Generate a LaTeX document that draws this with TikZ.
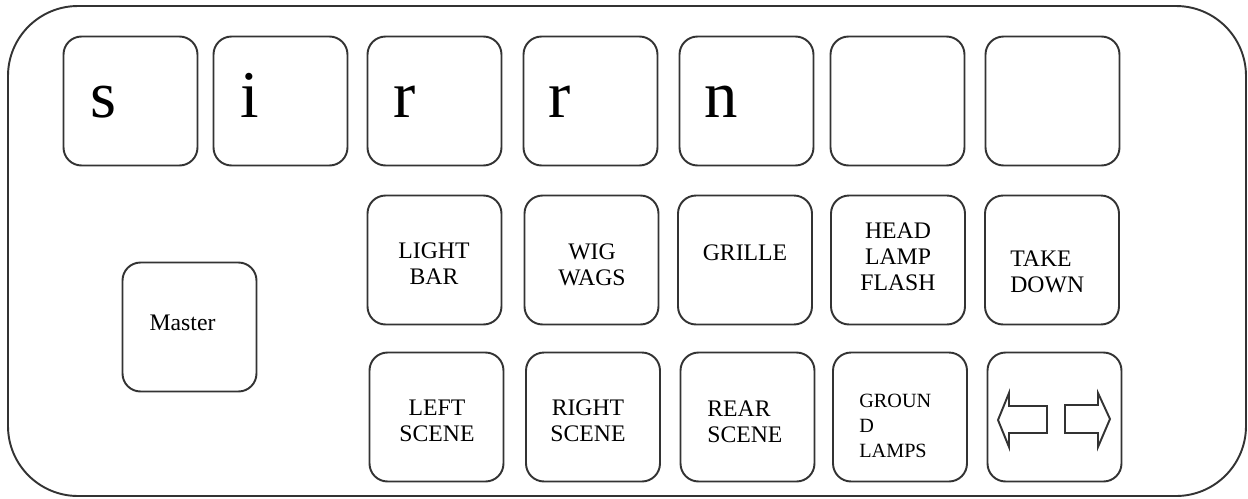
\documentclass[tikz,border=0pt]{standalone}
\usepackage{fontspec}
\setmainfont{Liberation Serif}
\usetikzlibrary{positioning}

\begin{document}
\begin{tikzpicture}[x=0.02cm, y=-0.02cm,
  key/.style={draw=black!80, line width=1.1pt, rounded corners=0.36cm, minimum width=2.68cm, minimum height=2.58cm, inner sep=0pt},
  big/.style={font=\fontsize{38}{40}\selectfont, anchor=base west, inner sep=0pt},
  lab/.style={font=\fontsize{13.5}{14.8}\selectfont, align=center, inner sep=0pt},
  labl/.style={lab, align=left, anchor=west},
  labs/.style={labl, font=\fontsize{11.5}{14.2}\selectfont},
  panel/.style={draw=black!80, line width=1.1pt, rounded corners=1.4cm},
  icon/.style={draw=black!80, line width=1.1pt, line join=miter}]
  \useasboundingbox (0,0) rectangle (1248,498);
  \draw[panel] (8,6) rectangle (1246,496);

  % top row
  \node[key] (ks) at (130.5,101) {};
  \node[key] (ki) at (280.5,101) {};
  \node[key] (kr1) at (434.5,101) {};
  \node[key] (kr2) at (590.5,101) {};
  \node[key] (kn) at (746.5,101) {};
  \node[key] (kblank1) at (897.5,101) {};
  \node[key] (kblank2) at (1052.5,101) {};
  \node[big] (ts) at (90,117) {s};
  \node[big] (ti) at (240,117) {i};
  \node[big] (tr1) at (393,117) {r};
  \node[big] (tr2) at (548,117) {r};
  \node[big] (tn) at (704,117) {n};

  % master
  \node[key] (master) at (189.5,327) {};
  \node[lab] (tmaster) at (182.5,323) {Master};

  % middle row
  \node[key] (lightbar) at (434.5,260) {};
  \node[key] (wigwags) at (591.5,260) {};
  \node[key] (grille) at (745,260) {};
  \node[key] (headlamp) at (898,260) {};
  \node[key] (takedown) at (1052,260) {};
  \node[lab] (tlightbar) at (434,264) {LIGHT\\BAR};
  \node[lab] (twigwags) at (592,264.5) {WIG\\WAGS};
  \node[lab] (tgrille) at (745,252.5) {GRILLE};
  \node[lab] (theadlamp) at (898,256.5) {HEAD\\LAMP\\FLASH};
  \node[labl] (ttakedown) at (1010,271.5) {TAKE\\DOWN};

  % bottom row
  \node[key] (leftscene) at (436.5,417) {};
  \node[key] (rightscene) at (593,417) {};
  \node[key] (rearscene) at (747.5,417) {};
  \node[key] (groundlamps) at (900,417) {};
  \node[key] (arrows) at (1054.5,417) {};
  \node[lab] (tleftscene) at (437,420.5) {LEFT\\SCENE};
  \node[lab] (trightscene) at (588,420.5) {RIGHT\\SCENE};
  \node[labl] (trearscene) at (707,421.5) {REAR\\SCENE};
  \node[labs] (tgroundlamps) at (859,425.5) {GROUN\\D\\LAMPS};

  % arrow icons
  \draw[icon] (998,420) -- (1009,393) -- (1009,406) -- (1047,406) -- (1047,433)
    -- (1009,433) -- (1009,447) -- cycle;
  \draw[icon] (1065,405) -- (1098,405) -- (1098,393) -- (1110,419) -- (1098,447)
    -- (1098,433) -- (1065,433) -- cycle;
\end{tikzpicture}
\end{document}
